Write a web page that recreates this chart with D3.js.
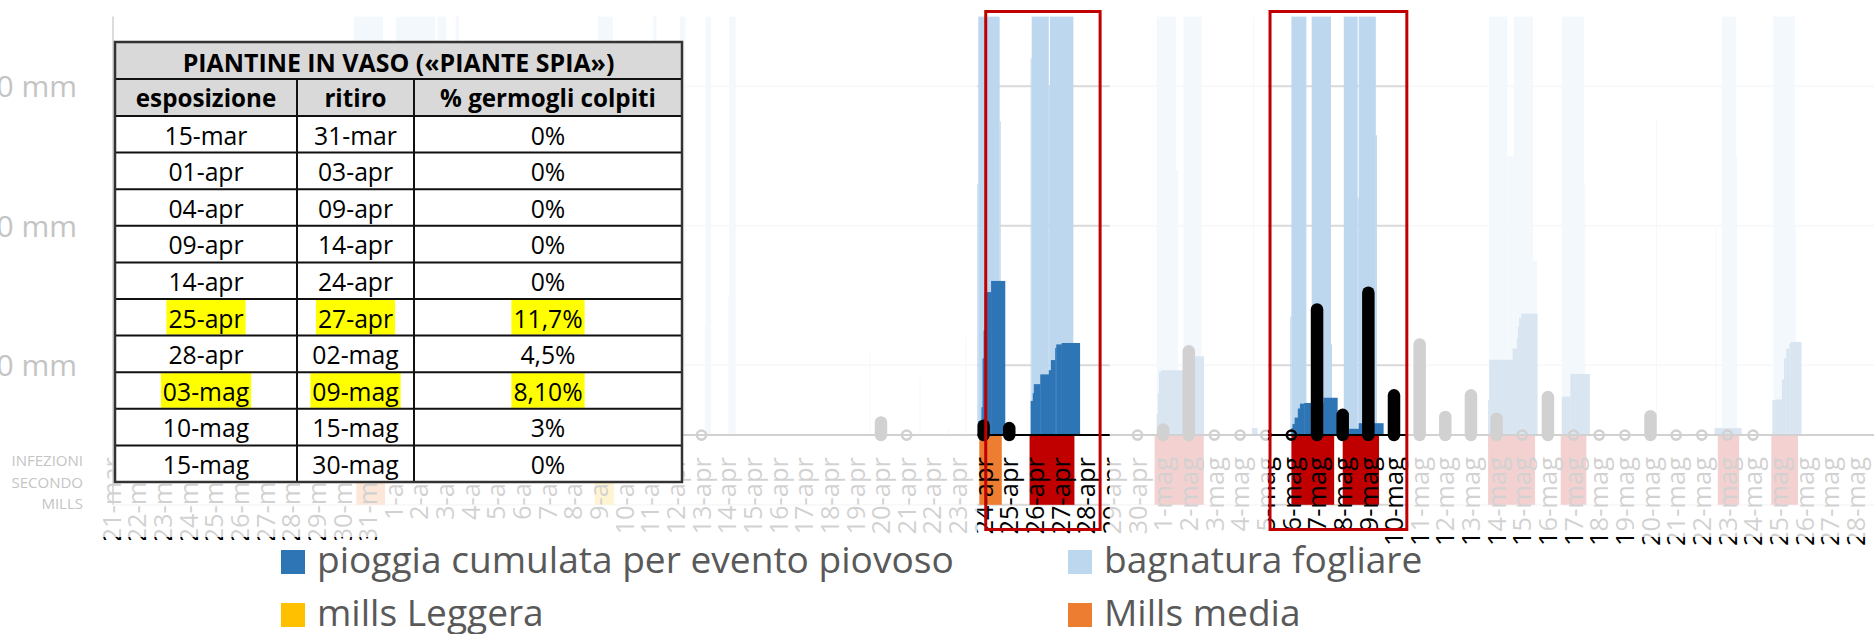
<!DOCTYPE html>
<html><head><meta charset="utf-8">
<script src="https://cdn.jsdelivr.net/npm/d3@7"></script>
<style>html,body{margin:0;padding:0;background:#fff;overflow:hidden}svg{display:block;font-family:"Open Sans",sans-serif}</style>
</head><body><svg id="c" width="1874" height="634"></svg>
<script>
// ---------------- DATA ----------------
const dayLabels = ["21-mar","22-mar","23-mar","24-mar","25-mar","26-mar","27-mar","28-mar","29-mar","30-mar","31-mar",
"1-apr","2-apr","3-apr","4-apr","5-apr","6-apr","7-apr","8-apr","9-apr","10-apr","11-apr","12-apr","13-apr","14-apr","15-apr",
"16-apr","17-apr","18-apr","19-apr","20-apr","21-apr","22-apr","23-apr","24-apr","25-apr","26-apr","27-apr","28-apr","29-apr","30-apr",
"1-mag","2-mag","3-mag","4-mag","5-mag","6-mag","7-mag","8-mag","9-mag","10-mag","11-mag","12-mag","13-mag","14-mag","15-mag",
"16-mag","17-mag","18-mag","19-mag","20-mag","21-mag","22-mag","23-mag","24-mag","25-mag","26-mag","27-mag","28-mag"];

const yTickValues = [-10, 10, 30, 50];
const yTickLabels = ["", "10 mm", "30 mm", "50 mm"];

// bagnatura fogliare: [from, to, minutes of wetness per hour]
const wetness = [
 ["30-mar 11","31-mar 14",60],["1-apr 02","2-apr 15",60],["2-apr 17","3-apr 01",60],["3-apr 10","3-apr 13",60],
 ["8-apr 23","9-apr 13",60],["11-apr 03","11-apr 06",60],["12-apr 04","12-apr 09",60],["13-apr 03","13-apr 04",16],
 ["13-apr 04","13-apr 09",60],["14-apr 01","14-apr 02",20],["14-apr 02","14-apr 08",60],["19-apr 13","19-apr 14",12],
 ["21-apr 12","21-apr 13",8],["22-apr 15","22-apr 16",1],["23-apr 07","23-apr 08",14],["23-apr 18","23-apr 19",36],
 ["23-apr 19","24-apr 15",60],["24-apr 15","24-apr 16",45],["25-apr 20","25-apr 21",54],["25-apr 21","26-apr 13",60],
 ["26-apr 13","26-apr 14",50],["26-apr 14","27-apr 12",60],["30-apr 18","1-mag 12",60],["1-mag 12","1-mag 14",38],
 ["1-mag 19","2-mag 12",60],["4-mag 12","4-mag 13",60],["5-mag 23","6-mag 00",17],["6-mag 00","6-mag 14",60],
 ["6-mag 19","7-mag 13",60],["7-mag 13","7-mag 14",13],["8-mag 01","8-mag 14",60],["8-mag 14","8-mag 15",34],
 ["8-mag 15","9-mag 07",60],["9-mag 07","9-mag 08",43],["13-mag 17","14-mag 10",60],["14-mag 10","14-mag 16",40],
 ["14-mag 16","15-mag 10",60],["15-mag 10","15-mag 14",25],["16-mag 13","17-mag 10",60],["17-mag 10","17-mag 11",36],
 ["20-mag 05","20-mag 06",45],["22-mag 13","22-mag 14",30],["22-mag 19","23-mag 08",60],["23-mag 08","23-mag 09",40],
 ["24-mag 19","25-mag 15",60],["25-mag 15","25-mag 16",30]
];

// pioggia cumulata per evento piovoso: [from, to, mm]
const rain = [
 ["23-apr 22","23-apr 23",4],["23-apr 23","24-apr 00",11],["24-apr 00","24-apr 01",15],["24-apr 01","24-apr 07",20.5],["24-apr 07","24-apr 20",22.1],
 ["25-apr 20","25-apr 22",4.9],["25-apr 22","25-apr 23",6],["25-apr 23","26-apr 05",7.3],["26-apr 05","26-apr 13",8.7],["26-apr 13","26-apr 15",9.3],
 ["26-apr 15","26-apr 19",10.75],["26-apr 19","26-apr 20",12.5],["26-apr 20","27-apr 01",13],["27-apr 01","27-apr 18",13.2],
 ["30-apr 18","30-apr 19",3],["30-apr 19","30-apr 20",6],["30-apr 20","30-apr 22",9.1],["30-apr 22","1-mag 19",9.3],["1-mag 19","2-mag 14",11.3],
 ["4-mag 11","4-mag 16",1],
 ["6-mag 00","6-mag 01",1],["6-mag 01","6-mag 03",1.6],["6-mag 03","6-mag 06",2.5],["6-mag 06","6-mag 08",3.8],["6-mag 08","6-mag 12",4.5],
 ["6-mag 12","7-mag 06",4.6],["7-mag 06","7-mag 19",5.35],["8-mag 06","8-mag 15",0.9],["8-mag 15","9-mag 14",1.7],
 ["13-mag 16","13-mag 17",5],["13-mag 17","14-mag 15",10.8],["14-mag 15","14-mag 19",12.4],["14-mag 19","14-mag 20",14],["14-mag 20","14-mag 21",15.5],
 ["14-mag 21","14-mag 23",16.8],["14-mag 23","15-mag 14",17.4],["16-mag 13","16-mag 21",5.5],["16-mag 21","17-mag 15",8.75],
 ["22-mag 12","23-mag 13",1],
 ["24-mag 18","24-mag 21",5],["24-mag 21","25-mag 03",5.1],["25-mag 03","25-mag 05",8],["25-mag 05","25-mag 07",11],["25-mag 07","25-mag 10",12.4],
 ["25-mag 10","25-mag 11",13.1],["25-mag 11","25-mag 21",13.35]
];

// infezioni secondo Mills: [from, to, level]
const mills = [
 ["30-mar 13","31-mar 16","media"],["8-apr 20","9-apr 14","leggera"],["23-apr 20","24-apr 17","media"],
 ["25-apr 19","27-apr 13","grave"],["30-apr 16","2-mag 14","grave"],["6-mag 00","7-mag 16","grave"],
 ["8-mag 00","9-mag 10","grave"],["13-mag 16","15-mag 12","grave"],["16-mag 12","17-mag 12","grave"],
 ["22-mag 15","23-mag 11","grave"],["24-mag 17","25-mag 18","grave"]
];
const millsValue = -10;

// daily markers
const markerDays = ["13-apr","20-apr","21-apr","24-apr","25-apr","30-apr","1-mag","2-mag","3-mag","4-mag","5-mag","6-mag",
 "7-mag","8-mag","9-mag","10-mag","11-mag","12-mag","13-mag","14-mag","15-mag","16-mag","17-mag","18-mag","19-mag",
 "20-mag","21-mag","22-mag","23-mag","24-mag"];
const markerValues = [0,1.8,0,1.35,1.0,0,0.8,12.0,0,0,0,0,18.0,2.9,20.4,5.7,13.0,2.6,5.7,2.35,0,5.45,0,0,0,2.7,0,0,0,0];

// highlighted windows
const clearWindows = [["23-apr 18","28-apr 22"],["5-mag 02","10-mag 13"]];
const redBoxes = [["24-apr 02","28-apr 13"],["5-mag 04","10-mag 12"]];

// table
const tableTitle = "PIANTINE IN VASO («PIANTE SPIA»)";
const tableHeader = ["esposizione","ritiro","% germogli colpiti"];
const tableExposure = ["15-mar","01-apr","04-apr","09-apr","14-apr","25-apr","28-apr","03-mag","10-mag","15-mag"];
const tableRemoval  = ["31-mar","03-apr","09-apr","14-apr","24-apr","27-apr","02-mag","09-mag","15-mag","30-mag"];
const tableShoots   = ["0%","0%","0%","0%","0%","11,7%","4,5%","8,10%","3%","0%"];
const tableHighlighted = [false,false,false,false,false,true,false,true,false,false];

// legend
const legendLabels = ["pioggia cumulata per evento piovoso","bagnatura fogliare","mills Leggera","Mills media"];
const legendColors = ["#2E75B6","#BDD7EE","#FFC000","#ED7D31"];
const millsColors = {leggera:"#FFC000", media:"#ED7D31", grave:"#C00000"};

// ---------------- HELPERS ----------------
const monthOffset = {mar:-21, apr:10, mag:40};
function dayIndex(s){ const [d,m] = s.split("-"); return +d + monthOffset[m]; }
function hourOf(s){ const [dm,hh] = s.split(" "); return dayIndex(dm)*24 + (hh ? +hh : 0); }

const svg = d3.select("#c");
const W = 1874;
const x = d3.scaleLinear().domain([0, 68*24]).range([111.5, 111.5 + 68*25.65]);
const y = d3.scaleLinear().domain([-10, 60]).range([504.8, 16.6]);
const plotLeft = 113;

// ---------------- CHART ----------------
const chart = svg.append("g");
chart.selectAll("line.grid").data(yTickValues).join("line")
  .attr("x1", plotLeft).attr("x2", W).attr("y1", d=>y(d)).attr("y2", d=>y(d))
  .attr("stroke","#D9D9D9").attr("stroke-width",2);

chart.selectAll("rect.wet").data(wetness).join("rect")
  .attr("x", d=>x(hourOf(d[0]))).attr("width", d=>x(hourOf(d[1]))-x(hourOf(d[0])))
  .attr("y", d=>y(d[2])).attr("height", d=>y(0)-y(d[2])).attr("fill","#BDD7EE");

chart.selectAll("rect.rain").data(rain).join("rect")
  .attr("x", d=>x(hourOf(d[0]))).attr("width", d=>x(hourOf(d[1]))-x(hourOf(d[0]))+0.3)
  .attr("y", d=>y(d[2])).attr("height", d=>y(0)-y(d[2])).attr("fill","#2E75B6");

chart.selectAll("rect.mills").data(mills).join("rect")
  .attr("x", d=>x(hourOf(d[0]))).attr("width", d=>x(hourOf(d[1]))-x(hourOf(d[0])))
  .attr("y", y(0)).attr("height", y(millsValue)-y(0)).attr("fill", d=>millsColors[d[2]]);

chart.append("line").attr("x1",plotLeft).attr("x2",plotLeft).attr("y1",y(60)).attr("y2",y(-10))
  .attr("stroke","#000").attr("stroke-width",1.5);
chart.append("line").attr("x1",plotLeft).attr("x2",W).attr("y1",y(0)).attr("y2",y(0))
  .attr("stroke","#000").attr("stroke-width",2);

const markers = markerDays.map((d,i)=>({h:dayIndex(d)*24, v:markerValues[i]}));
chart.selectAll("line.mk").data(markers.filter(m=>m.v>0)).join("line")
  .attr("x1", d=>x(d.h)).attr("x2", d=>x(d.h)).attr("y1", y(0)).attr("y2", d=>y(d.v))
  .attr("stroke","#000").attr("stroke-width",12.5).attr("stroke-linecap","round");
chart.selectAll("circle.mk").data(markers.filter(m=>m.v===0)).join("circle")
  .attr("cx", d=>x(d.h)).attr("cy", y(0)).attr("r",4.6)
  .attr("fill","none").attr("stroke","#000").attr("stroke-width",2.6);

// x labels
svg.append("clipPath").attr("id","lblclip").append("rect").attr("x",0).attr("y",0).attr("width",W).attr("height",550);
chart.append("g").attr("clip-path","url(#lblclip)")
  .selectAll("text").data(dayLabels).join("text")
  .attr("transform", (d,i)=>`translate(${x(i*24)},457) rotate(-90)`)
  .attr("text-anchor","end").attr("dy","0.36em").attr("font-size",25.5).attr("fill","#000").text(d=>d);

// ---------------- FADE OVERLAY ----------------
let p = `M0,0H${W}V537H0Z`;
clearWindows.forEach(w=>{ const a=x(hourOf(w[0])), b=x(hourOf(w[1])); p += `M${a},0V537H${b}V0Z`; });
svg.append("path").attr("d",p).attr("fill","#fff").attr("fill-opacity",0.82).attr("fill-rule","evenodd");

// y labels
svg.selectAll("text.yl").data(yTickValues).join("text")
  .attr("x",77).attr("y",d=>y(d)).attr("dy","0.36em").attr("text-anchor","end")
  .attr("font-size",30).attr("fill","#C4C4C4").text((d,i)=>yTickLabels[i]);
svg.selectAll("text.inf").data(["INFEZIONI","SECONDO","MILLS"]).join("text")
  .attr("x",83).attr("y",(d,i)=>466+i*21.5).attr("text-anchor","end")
  .attr("font-size",15).attr("fill","#C4C4C4").text(d=>d);

// red boxes
svg.selectAll("rect.box").data(redBoxes).join("rect")
  .attr("x", d=>x(hourOf(d[0]))).attr("width", d=>x(hourOf(d[1]))-x(hourOf(d[0])))
  .attr("y",11.5).attr("height",518).attr("fill","none").attr("stroke","#C00000").attr("stroke-width",3);

// ---------------- TABLE ----------------
const cols = [115, 297, 414, 682];
const tTop = 42, hRow = 37, dRow = 36.6;
const tb = svg.append("g");
const dataTop = tTop + 2*hRow;
function fit(sel, target){ const w = sel.node().getComputedTextLength(); const fs = +sel.attr("font-size"); return fs*target/w; }

tb.append("rect").attr("x",cols[0]).attr("y",tTop).attr("width",cols[3]-cols[0]).attr("height",2*hRow).attr("fill","#D9D9D9");
tb.append("rect").attr("x",cols[0]).attr("y",dataTop).attr("width",cols[3]-cols[0]).attr("height",10*dRow).attr("fill","#fff");

const title = tb.append("text").attr("x",(cols[0]+cols[3])/2).attr("y",tTop+30).attr("text-anchor","middle")
  .attr("font-weight",700).attr("font-size",26).text(tableTitle);
title.attr("font-size", fit(title, 432));

const hdr = tb.selectAll("text.h").data(tableHeader).join("text")
  .attr("x",(d,i)=>(cols[i]+cols[i+1])/2).attr("y",tTop+hRow+28).attr("text-anchor","middle")
  .attr("font-weight",700).attr("font-size",24).text(d=>d);
const hSize = fit(hdr.filter((d,i)=>i===2), 216);
hdr.attr("font-size", hSize);

const rows = tableExposure.map((e,i)=>[e, tableRemoval[i], tableShoots[i], tableHighlighted[i]]);
const hlG = tb.append("g");
const cellT = tb.selectAll("g.r").data(rows).join("g")
  .selectAll("text").data((r,ri)=>r.slice(0,3).map((v,ci)=>({v,ci,ri,hl:r[3]}))).join("text")
  .attr("x",d=>(cols[d.ci]+cols[d.ci+1])/2).attr("y",d=>dataTop+d.ri*dRow+28.5)
  .attr("text-anchor","middle").attr("font-size",24).attr("fill","#000").text(d=>d.v);
const dSize = fit(cellT.filter(d=>d.ri===0&&d.ci===0), 83);
cellT.attr("font-size", dSize);
cellT.filter(d=>d.hl).each(function(d){
  const b = this.getBBox();
  hlG.append("rect").attr("x",b.x-2).attr("width",b.width+4)
    .attr("y",dataTop+d.ri*dRow+1).attr("height",dRow-2).attr("fill","#FFFF00");
});

// grid lines of table
const hLines = [tTop, tTop+hRow, tTop+2*hRow].concat(d3.range(1,11).map(i=>dataTop+i*dRow));
tb.selectAll("line.th").data(hLines).join("line")
  .attr("x1",cols[0]).attr("x2",cols[3]).attr("y1",d=>d).attr("y2",d=>d).attr("stroke","#111").attr("stroke-width",2);
tb.selectAll("line.tv").data(cols).join("line")
  .attr("x1",d=>d).attr("x2",d=>d).attr("y1",(d,i)=>(i===0||i===3)?tTop:tTop+hRow).attr("y2",dataTop+10*dRow)
  .attr("stroke","#111").attr("stroke-width",2);
tb.append("rect").attr("x",cols[0]).attr("y",tTop).attr("width",cols[3]-cols[0]).attr("height",dataTop+10*dRow-tTop)
  .attr("fill","none").attr("stroke","#333").attr("stroke-width",2.5);

// ---------------- LEGEND ----------------
svg.append("rect").attr("x",0).attr("y",540).attr("width",1380).attr("height",94).attr("fill","#fff");
const lg = svg.append("g");
const lgPos = [[281,550],[1068,550],[281,603],[1068,603]];
lg.selectAll("rect").data(legendLabels).join("rect")
  .attr("x",(d,i)=>lgPos[i][0]).attr("y",(d,i)=>lgPos[i][1]).attr("width",24).attr("height",24)
  .attr("fill",(d,i)=>legendColors[i]);
const lgT = lg.selectAll("text").data(legendLabels).join("text")
  .attr("x",(d,i)=>lgPos[i][0]+36).attr("y",(d,i)=>lgPos[i][1]+23)
  .attr("font-size",32).attr("fill","#595959").text(d=>d);
lgT.attr("font-size", fit(lgT.filter((d,i)=>i===0), 637));
</script></body></html>
